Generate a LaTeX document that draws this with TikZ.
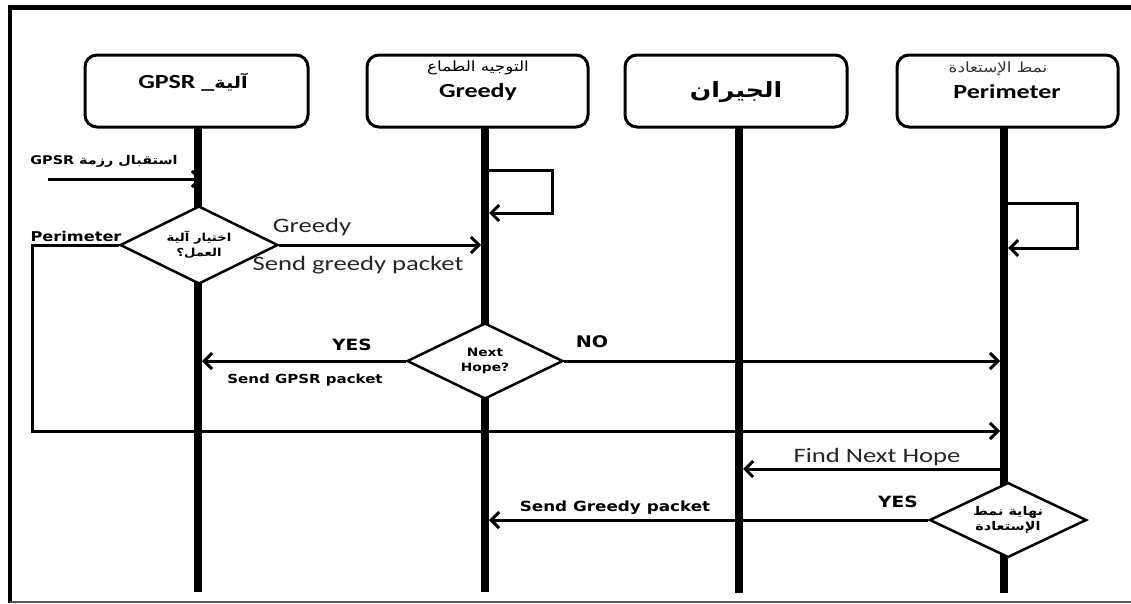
\documentclass[tikz,border=0pt]{standalone}
\usepackage{fontspec}
\TeXXeTstate=1
\usetikzlibrary{shapes.geometric,arrows.meta}
\newfontfamily\arabicfont[Script=Arabic,FakeStretch=1.2]{DejaVu Sans}
\newfontfamily\calw[FakeStretch=1.3]{Carlito}
\newfontfamily\dejaw[FakeStretch=1.2]{DejaVu Sans}
\newcommand{\fs}[1]{\fontsize{#1}{#1}\selectfont}
\begin{document}
\begin{tikzpicture}[x=1pt,y=-1pt,
  lifebox/.style={draw, line width=3pt, rounded corners=12pt, minimum height=72pt, inner sep=0pt},
  life/.style={line width=8pt},
  dia/.style={diamond, aspect=2, draw, fill=white, line width=2.5pt, inner sep=0pt, align=center},
  msg/.style={line width=3pt, -{Straight Barb[length=8pt,width=16pt]}},
  lbl/.style={inner sep=0pt, font=\dejaw\bfseries},
  rlbl/.style={inner sep=0pt, font=\calw, text=black!85},
  hdr/.style={inner sep=0pt, font=\calw\bfseries\fs{20}}
]
\useasboundingbox (0,0) rectangle (1131,603);
% frame
\draw[line width=5pt] (8,7) -- (1131,7);
\draw[line width=4.5pt] (10,5) -- (10,603);
\draw[line width=1.5pt, black!65] (10,602) -- (1131,602);

% header boxes
\node[lifebox, minimum width=223pt] (b1) at (196.5,91) {};
\node[lifebox, minimum width=221pt] (b2) at (477.5,91) {};
\node[lifebox, minimum width=222pt] (b3) at (736,91) {};
\node[lifebox, minimum width=221pt] (b4) at (1007.5,91) {};

\node[hdr] (t1) at (193,82) {\beginR{\arabicfont\bfseries\fs{16}آلية}\_ \beginL GPSR\endL\endR};
\node[inner sep=0pt, font=\arabicfont\fs{14}] (t2a) at (478,68) {\beginR التوجيه الطماع\endR};
\node[hdr] (t2b) at (478,92) {Greedy};
\node[inner sep=0pt, font=\arabicfont\bfseries\fs{21}] (t3) at (736,92) {\beginR الجيران\endR};
\node[inner sep=0pt, font=\arabicfont\fs{14}, text=black!80] (t4a) at (998,69) {\beginR نمط الإستعادة\endR};
\node[hdr] (t4b) at (1007,92) {Perimeter};

% lifeline coordinates
\coordinate (l1) at (198,127);   \coordinate (l1b) at (198,592);
\coordinate (l2) at (485,127);   \coordinate (l2b) at (485,592);
\coordinate (l3) at (739,127);   \coordinate (l3b) at (739,593);
\coordinate (l4) at (1004,127);  \coordinate (l4b) at (1004,593);
\coordinate (l1e) at (202,127);
\coordinate (l2w) at (481,127);
\coordinate (l2e) at (489,127);
\coordinate (l3e) at (743,127);
\coordinate (l4w) at (1000,127);
\coordinate (l4e) at (1008,127);

\draw[life] (l1) -- (l1b);
\draw[life] (l2) -- (l2b);
\draw[life] (l3) -- (l3b);
\draw[life] (l4) -- (l4b);

% incoming message
\coordinate (in0) at (48,179);
\draw[msg] (in0) -- (l1e |- in0);
\node[lbl, font=\arabicfont\bfseries\fs{12}] (lin) at (104,161) {\beginR استقبال رزمة \beginL{\dejaw\bfseries\fs{12}GPSR}\endL\endR};

% self loop on Greedy
\coordinate (s2a) at (552,170);
\coordinate (s2b) at (552,213);
\draw[msg] (l2e |- s2a) -- (s2a) -- (s2b) -- (l2e |- s2b);

% decision 1
\node[dia, minimum width=158pt, minimum height=78pt, font=\arabicfont\bfseries\fs{11}] (d1) at (199,245)
  {\beginR اختيار آلية\endR\\[3pt]\beginR العمل؟\endR};
\draw[msg] (d1.east) -- (l2w |- d1.east);
\node[rlbl, font=\calw\fs{20.5}] (lg) at (312,227) {Greedy};
\node[rlbl, font=\calw\fs{20.5}] (lsg) at (358,265) {Send greedy packet};

\coordinate (pc) at (32,431);
\draw[msg] (d1.west) -| (pc) -- (l4w |- pc);
\node[lbl, font=\dejaw\bfseries\fs{13.5}] (lper) at (76,236) {Perimeter};

% self loop on Perimeter
\coordinate (s4a) at (1077,203);
\coordinate (s4b) at (1077,248);
\draw[msg] (l4e |- s4a) -- (s4a) -- (s4b) -- (l4e |- s4b);

% decision 2
\node[dia, minimum width=156pt, minimum height=76pt, font=\dejaw\bfseries\fs{11.5}] (d2) at (485,361) {Next\\[3pt]Hope?};
\draw[msg] (d2.west) -- (l1e |- d2.west);
\draw[msg] (d2.east) -- (l4w |- d2.east);
\node[lbl, font=\dejaw\bfseries\fs{15.5}] (lyes1) at (352,345) {YES};
\node[lbl, font=\dejaw\bfseries\fs{12.5}] (lsgp) at (305,380) {Send GPSR packet};
\node[lbl, font=\dejaw\bfseries\fs{16}] (lno) at (592,342) {NO};

% find next hope
\coordinate (fn) at (1000,469);
\draw[msg] (fn) -- (l3e |- fn);
\node[rlbl, font=\calw\fs{20.5}] (lfn) at (877,457) {Find Next Hope};

% decision 3
\node[dia, minimum width=157pt, minimum height=75pt, font=\arabicfont\bfseries\fs{12}] (d3) at (1008,520)
  {\beginR نهاية نمط\endR\\[2pt]\beginR الإستعادة\endR};
\draw[msg] (d3.west) -- (l2e |- d3.west);
\node[lbl, font=\dejaw\bfseries\fs{14}] (lsgr) at (615,508) {Send Greedy packet};
\node[lbl, font=\dejaw\bfseries\fs{15.5}] (lyes2) at (898,502) {YES};
\end{tikzpicture}
\end{document}
